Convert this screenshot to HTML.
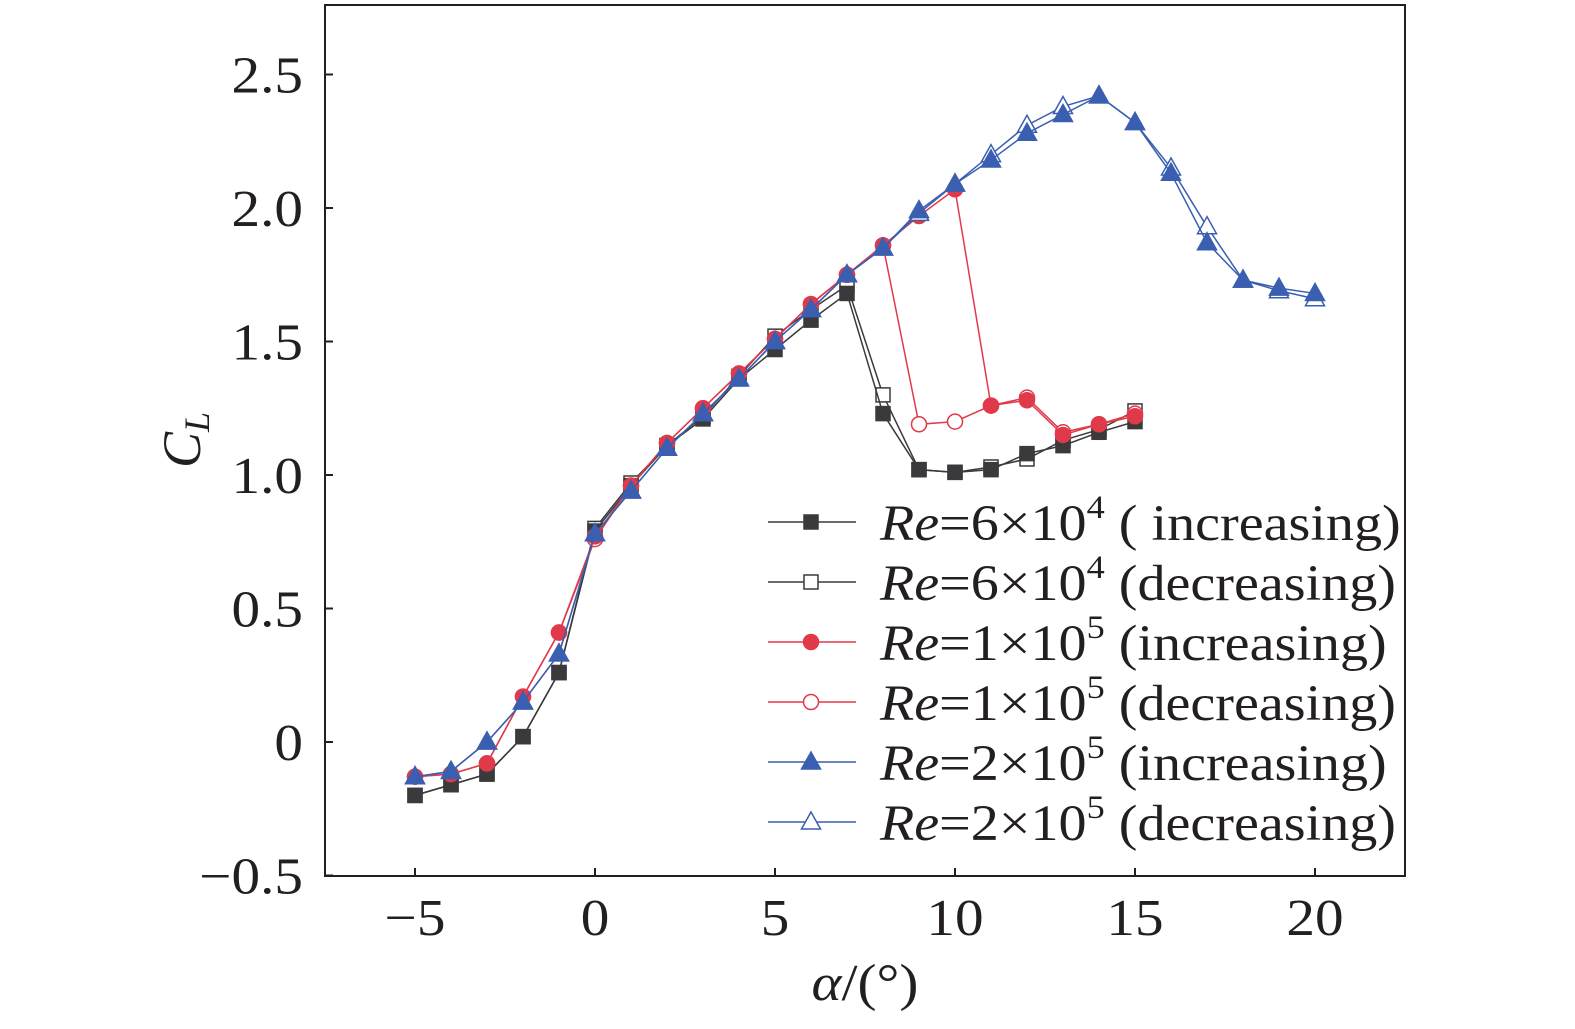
<!DOCTYPE html>
<html><head><meta charset="utf-8"><style>
body{margin:0;background:#fff}
svg text{font-family:"Liberation Serif",serif;fill:#231f20}
</style></head><body>
<svg width="1575" height="1024" viewBox="0 0 1575 1024" xmlns="http://www.w3.org/2000/svg">
<rect x="325" y="5" width="1080" height="871" fill="none" stroke="#231f20" stroke-width="2"/>
<g id="axes"></g>
<g id="series"></g>
<g id="legend"></g>
<text x="200" y="440" font-size="54" font-style="italic" text-anchor="middle" transform="rotate(-90 200 440)">C<tspan font-size="36" dy="9">L</tspan></text>
<text x="865" y="1000" font-size="52" text-anchor="middle" transform="translate(865,0) scale(1.1,1) translate(-865,0)"><tspan font-style="italic">α</tspan>/(°)</text>
</svg>
<script>
const xTicks=[-5,0,5,10,15,20];
const yTicks=[-0.5,0,0.5,1.0,1.5,2.0,2.5];
const yTickLabels=["−0.5","0","0.5","1.0","1.5","2.0","2.5"];
const alpha15=[-5,-4,-3,-2,-1,0,1,2,3,4,5,6,7,8,9,10,11,12,13,14,15];
const alpha20=[-5,-4,-3,-2,-1,0,1,2,3,4,5,6,7,8,9,10,11,12,13,14,15,16,17,18,19,20];
const blackInc=[-0.20,-0.16,-0.12,0.02,0.26,0.79,0.96,1.11,1.21,1.36,1.47,1.58,1.68,1.23,1.02,1.01,1.02,1.08,1.11,1.16,1.20];
const blackDec=[-0.20,-0.16,-0.12,0.02,0.26,0.80,0.97,1.11,1.22,1.37,1.52,1.62,1.71,1.30,1.02,1.01,1.03,1.06,1.13,1.17,1.24];
const redInc=[-0.13,-0.12,-0.08,0.17,0.41,0.77,0.96,1.12,1.25,1.38,1.51,1.64,1.75,1.86,1.97,2.07,1.26,1.28,1.15,1.19,1.22];
const redDec=[-0.13,-0.12,-0.08,0.17,0.41,0.76,0.96,1.12,1.25,1.38,1.51,1.64,1.75,1.86,1.19,1.20,1.26,1.29,1.16,1.19,1.23];
const blueInc=[-0.13,-0.11,0.00,0.15,0.33,0.78,0.94,1.10,1.23,1.36,1.50,1.62,1.75,1.85,1.99,2.09,2.18,2.28,2.35,2.42,2.32,2.13,1.87,1.73,1.70,1.68];
const blueDec=[-0.13,-0.11,0.00,0.15,0.33,0.78,0.94,1.10,1.23,1.36,1.50,1.62,1.75,1.85,1.98,2.09,2.20,2.31,2.38,2.42,2.32,2.15,1.93,1.73,1.69,1.66];
const NS="http://www.w3.org/2000/svg";
const X=v=>595+36*v, Y=v=>742-267*v;
function mk(tag,attrs,parent){const e=document.createElementNS(NS,tag);for(const k in attrs)e.setAttribute(k,attrs[k]);parent.appendChild(e);return e;}
const sx=(x,k)=>`translate(${x},0) scale(${k},1) translate(${-x},0)`;
const axes=document.getElementById('axes');
xTicks.forEach(t=>{
 const l=mk('line',{x1:X(t),x2:X(t),y1:876,y2:868,stroke:'#231f20','stroke-width':2},axes);
 
 
 const tx=mk('text',{x:X(t),y:935,'font-size':52,'text-anchor':'middle',transform:sx(X(t),1.1)},axes);
 tx.textContent=t<0?'−'+(-t):String(t);
 
 
});
yTicks.forEach((t,i)=>{
 const l=mk('line',{x1:325,x2:333,y1:Y(t),y2:Y(t),stroke:'#231f20','stroke-width':2},axes);
 
 
 const tx=mk('text',{x:303,y:Y(t)+18,'font-size':52,'text-anchor':'end',transform:sx(303,1.1)},axes);
 tx.textContent=yTickLabels[i];
 
 
});
function marker(g,shape,fill,col,cx,cy){
 let e;
 if(shape==='sq')e=mk('rect',{x:cx-7,y:cy-7,width:14,height:14,fill:fill?col:'#fff',stroke:col,'stroke-width':1.5},g);
 else if(shape==='ci')e=mk('circle',{cx:cx,cy:cy,r:7.5,fill:fill?col:'#fff',stroke:col,'stroke-width':1.5},g);
 else e=mk('polygon',{points:`${cx},${cy-10} ${cx-9.5},${cy+7} ${cx+9.5},${cy+7}`,fill:fill?col:'#fff',stroke:col,'stroke-width':1.5},g);
 return e;
}
const series=[
 {n:'re6e4-decreasing',xs:alpha15,ys:blackDec,col:'#3a3a3c',sh:'sq',f:false},
 {n:'re6e4-increasing',xs:alpha15,ys:blackInc,col:'#3a3a3c',sh:'sq',f:true},
 {n:'re1e5-decreasing',xs:alpha15,ys:redDec,col:'#e03a4a',sh:'ci',f:false},
 {n:'re1e5-increasing',xs:alpha15,ys:redInc,col:'#e03a4a',sh:'ci',f:true},
 {n:'re2e5-decreasing',xs:alpha20,ys:blueDec,col:'#3b5fb0',sh:'tr',f:false},
 {n:'re2e5-increasing',xs:alpha20,ys:blueInc,col:'#3b5fb0',sh:'tr',f:true},
];
const sg=document.getElementById('series');
series.forEach(s=>{
 const g=mk('g',{},sg);
 
 
 const p=mk('polyline',{points:s.xs.map((x,i)=>X(x)+','+Y(s.ys[i])).join(' '),fill:'none',stroke:s.col,'stroke-width':1.5},g);
 
 
 s.xs.forEach((x,i)=>{
  const m=marker(g,s.sh,s.f,s.col,X(x),Y(s.ys[i]));
  
  
 });
});
const legendRows=[
 {sh:'sq',f:true,col:'#3a3a3c',base:'6×10',exp:'4',lab:' ( increasing)'},
 {sh:'sq',f:false,col:'#3a3a3c',base:'6×10',exp:'4',lab:' (decreasing)'},
 {sh:'ci',f:true,col:'#e03a4a',base:'1×10',exp:'5',lab:' (increasing)'},
 {sh:'ci',f:false,col:'#e03a4a',base:'1×10',exp:'5',lab:' (decreasing)'},
 {sh:'tr',f:true,col:'#3b5fb0',base:'2×10',exp:'5',lab:' (increasing)'},
 {sh:'tr',f:false,col:'#3b5fb0',base:'2×10',exp:'5',lab:' (decreasing)'},
];
const lg=document.getElementById('legend');
legendRows.forEach((r,i)=>{
 const y=522+60*i;
 const g=mk('g',{},lg);
 
 
 mk('line',{x1:768,x2:856,y1:y,y2:y,stroke:r.col,'stroke-width':1.5},g);
 marker(g,r.sh,r.f,r.col,811,y);
 const t=mk('text',{x:880,y:y+18,'font-size':51,transform:sx(880,1.1)},g);
 t.innerHTML=`<tspan font-style="italic">Re</tspan>=${r.base}<tspan font-size="33" dy="-22">${r.exp}</tspan><tspan dy="22">${r.lab}</tspan>`;
});
</script>
</body></html>
